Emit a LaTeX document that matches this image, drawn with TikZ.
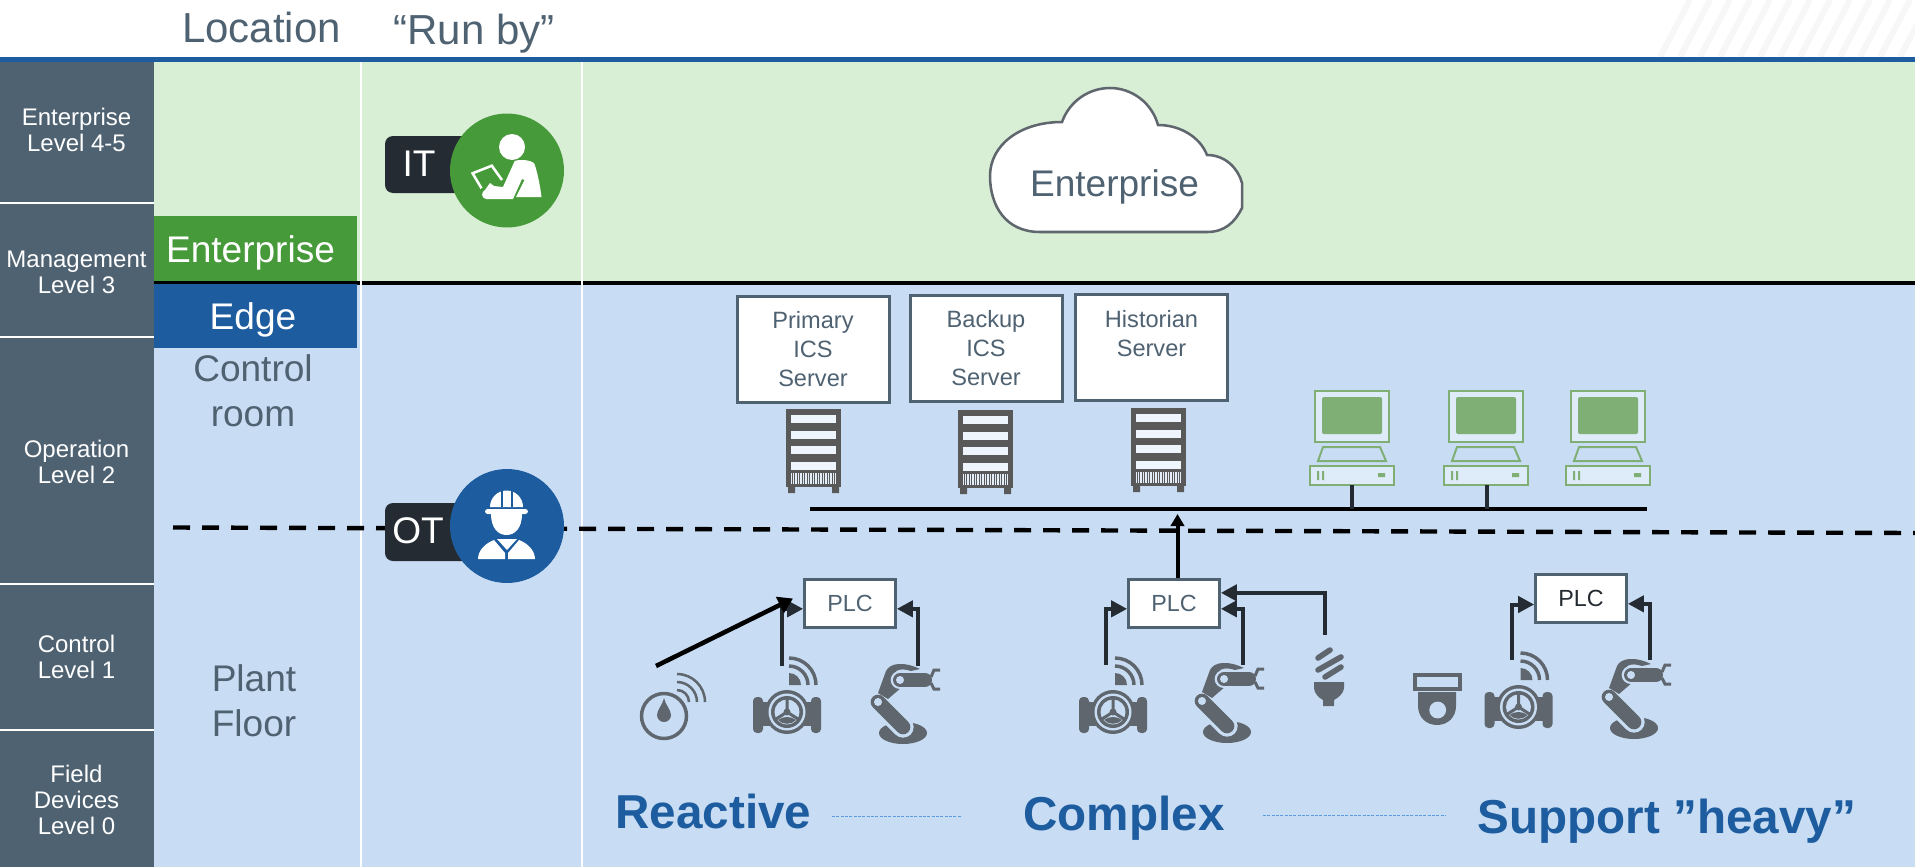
\documentclass[tikz,border=0pt]{standalone}
\usepackage{fontspec}
\setmainfont{Liberation Sans}
\usetikzlibrary{arrows.meta}

\definecolor{itgreen}{RGB}{71,154,58}
\definecolor{otblue}{RGB}{29,92,158}
\definecolor{lightgreen}{RGB}{216,239,214}
\definecolor{lightblue}{RGB}{200,221,244}
\definecolor{slategray}{RGB}{79,98,114}
\definecolor{tagdark}{RGB}{36,43,50}
\definecolor{icongray}{RGB}{95,102,109}
\definecolor{rackgray}{RGB}{89,89,89}
\definecolor{pcgreen}{RGB}{127,175,117}
\definecolor{dashblue}{RGB}{91,155,224}

\tikzset{every picture/.style={line width=0.75pt}}
\tikzset{
	every pic/.style={yscale=-1},
	leveltext/.style={text=white,align=center,inner sep=0pt,font=\fontsize{18}{19.5}\selectfont},
	headtext/.style={text=slategray,anchor=base,inner sep=0pt,font=\fontsize{31.5}{36}\selectfont},
	zonetext/.style={text=white,anchor=base,inner sep=0pt,font=\fontsize{27.8}{32}\selectfont},
	roomtext/.style={text=slategray,align=center,inner sep=0pt,font=\fontsize{27.8}{33.75}\selectfont},
	tagtext/.style={text=white,inner sep=0pt,font=\fontsize{27.8}{32}\selectfont},
	serverbox/.style={draw=slategray,fill=white,line width=2.25pt,minimum width=114pt,minimum height=79.5pt,inner sep=0pt,
		text=slategray,align=center,font=\fontsize{17.7}{21.75}\selectfont},
	plcbox/.style={draw=slategray,fill=white,line width=2.25pt,minimum width=68pt,minimum height=36pt,inner sep=0pt,
		text=slategray,font=\fontsize{17.5}{21}\selectfont},
	plclink/.style={draw=tagdark,line width=3pt,-{Triangle[length=12pt,width=12pt,fill=tagdark]}},
	trendtext/.style={text=otblue,anchor=base,inner sep=0pt,font=\fontsize{35.7}{40}\selectfont\bfseries},
	trendline/.style={draw=dashblue,line width=0.75pt,dash pattern={on 2.25pt off 1pt}},
	fieldvalve/.pic={
		\fill[icongray,rounded corners=3pt] (-34,-15) rectangle (-24,21);
		\fill[icongray,rounded corners=3pt] (24,-15) rectangle (34,21);
		\fill[icongray] (-25,-10) rectangle (25,14);
		\fill[icongray] (0,0) circle (22);
		\fill[lightblue] (0,0) circle (18.5);
		\fill[icongray] (0,0) circle (16);
		\fill[lightblue] (0,0) circle (12.5);
		\draw[icongray,line width=2.25pt] (0,0) -- (0,-13) (0,0) -- (11,7) (0,0) -- (-11,7);
		\fill[icongray] (0,0) circle (3.5);
		\fill[icongray] (-9,8) .. controls (-4,4) and (4,4) .. (9,8) .. controls (4,13) and (-4,13) .. (-9,8) -- cycle;
		\fill[icongray] (2,-27) -- (2,-39) arc [start angle=-90,end angle=0,radius=12] -- cycle;
		\draw[icongray,line width=2.6pt] (2,-46) arc [start angle=-90,end angle=0,radius=19];
		\draw[icongray,line width=2.6pt] (2,-54) arc [start angle=-90,end angle=0,radius=27];
	},
	robotarm/.pic={
		\fill[icongray] (-2,30) ellipse [x radius=24,y radius=11];
		\draw[lightblue,line width=16pt,line cap=round] (-27,-1) -- (-2,24);
		\draw[icongray,line width=11pt,line cap=round] (-27,-1) -- (-2,24);
		\fill[lightblue] (-27,-1) circle (4);
		\fill[icongray] (-27,-10) -- (-19,-32) .. controls (-15,-40) and (-2,-42) .. (15,-34) -- (6,-32)
			.. controls (-6,-36) and (-12,-32) .. (-14,-24) -- (-3,-16) -- (-17,-4) -- cycle;
		\draw[lightblue,line width=14pt,line cap=round] (-5,-23) -- (20,-23);
		\draw[icongray,line width=10.5pt,line cap=round] (-5,-23) -- (20,-23);
		\fill[lightblue] (-5,-23) circle (4);
		\draw[icongray,line width=2.25pt] (26,-26) -- (29,-33) -- (35,-33) (26,-20) -- (29,-14) -- (35,-14);
	},
	rackunit/.pic={
		\fill[rackgray] (0,0) rectangle (55,78);
		\fill[rackgray] (2,78) rectangle (9,84) (46,78) rectangle (53,84);
		\foreach \slot in {6,22,37,53} {
			\fill[white!70!lightblue] (5,\slot) rectangle (50,\slot+8);
		}
		\fill[white!50!lightblue] (5,64) rectangle (50,75);
		\foreach \bar in {6,8.5,...,49} {
			\draw[rackgray,line width=0.6pt] (\bar,64) -- (\bar,75);
		}
	},
	operatorpc/.pic={
		\fill[white!40!lightblue] (5,0) rectangle (79,51);
		\draw[pcgreen,line width=1.5pt] (5,0) rectangle (79,51);
		\fill[pcgreen,rounded corners=1.5pt] (12,6) rectangle (72,43);
		\draw[pcgreen,line width=1.5pt] (13,56) -- (70,56) -- (76,70) -- (8,70) -- cycle;
		\fill[white!40!lightblue] (0,75) rectangle (84,94);
		\draw[pcgreen,line width=1.5pt] (0,75) rectangle (84,94);
		\fill[pcgreen] (7,80) rectangle (9,89) (12,80) rectangle (14,89) (68,82) rectangle (75,86);
	},
}

\begin{document}
\begin{tikzpicture}[x=0.75pt,y=0.75pt,yscale=-1,xscale=1]
	\useasboundingbox (0,0) rectangle (1915,867);

	%Shape: Stripes top right
	\foreach \x in {1660,1680,...,1900} {
		\draw [color=black!3,line width=4.5pt] (\x,57) -- (\x+30,0) ;
	}

	%Shape: Rectangle bands
	\fill [lightgreen] (154,62) rectangle (1915,282) ;
	\fill [lightblue] (154,282) rectangle (1915,867) ;
	\fill [slategray] (0,62) rectangle (154,867) ;
	%Straight Lines level separators
	\foreach \y in {203,337,584,730} {
		\draw [white,line width=1.5pt] (0,\y) -- (154,\y) ;
	}
	%Straight Lines top rule and boundary
	\draw [otblue,line width=3.75pt] (0,59.5) -- (1915,59.5) ;
	\draw [black,line width=3pt] (154,282.5) -- (1915,282.5) ;
	%Straight Lines column rules
	\draw [white,line width=1.5pt] (361,62) -- (361,867) ;
	\draw [white,line width=1.5pt] (582,62) -- (582,867) ;
	%Straight Lines level 2 boundary
	\draw [black,line width=3.3pt,dash pattern={on 12.75pt off 9pt}] (173,527.5) -- (1915,533) ;

	% Text Node
	\node [headtext] (location) at (261.5,43) {Location};
	\node [headtext] (runby) at (474,45) {“Run by”};
	\node [leveltext] (lvlenterprise) at (76.5,130) {Enterprise\\Level 4-5};
	\node [leveltext] (lvlmanagement) at (76.5,272) {Management\\Level 3};
	\node [leveltext] (lvloperation) at (76.5,462) {Operation\\Level 2};
	\node [leveltext] (lvlcontrol) at (76.5,657) {Control\\Level 1};
	\node [leveltext] (lvlfield) at (76.5,800) {Field\\Devices\\Level 0};

	%Shape: Rectangle zones
	\fill [itgreen] (154,216) rectangle (357,281) ;
	\fill [otblue] (154,284) rectangle (357,348) ;
	% Text Node
	\node [zonetext] (zoneenterprise) at (250.5,262) {Enterprise};
	\node [zonetext] (zoneedge) at (253,329) {Edge};
	\node [roomtext] (controlroom) at (253,391) {Control\\room};
	\node [roomtext] (plantfloor) at (254,701) {Plant\\Floor};

	%Shape: IT badge
	\fill [tagdark,rounded corners=6pt] (385,136) rectangle (470,193) ;
	\fill [itgreen] (507,170.5) circle (57) ;
	\node [tagtext] (ittag) at (419,163.5) {IT};
	\fill [white] (512,147) circle (13) ;
	\fill [white] (514.7,161) .. controls (520,159) and (530,160) .. (534,163) .. controls (537,170) and (540,185) .. (541.5,197) -- (516,197) -- (524.5,180) -- (522,179) -- (513,199) -- (486,199) .. controls (481,198) and (481,192) .. (485,190) -- (490,183) -- (494,186) -- (503,187) -- cycle ;
	\draw [white,line width=1.9pt] (502,180) -- (491.8,165.7) -- (472.6,173.3) -- (481.5,188.3) ;

	%Shape: OT badge
	\fill [tagdark,rounded corners=6pt] (385,503) rectangle (470,561) ;
	\fill [otblue] (507,526) circle (57) ;
	\node [tagtext] (ottag) at (418,530.5) {OT};
	\fill [white] (490,507) arc [start angle=180,end angle=360,radius=16.5] -- cycle ;
	\fill [white,rounded corners=2pt] (485,509) rectangle (528,514) ;
	\fill [white] (491,514) -- (522,514) .. controls (522,528) and (515,535) .. (506.5,535) .. controls (498,535) and (491,528) .. (491,514) -- cycle ;
	\draw [otblue,line width=1.2pt] (502,488) -- (502,507) (512,488) -- (512,507) ;
	\fill [white] (497,539) -- (517,539) -- (507,550) -- cycle ;
	\fill [white] (478,559) .. controls (478,550) and (486,543) .. (494,540) -- (505,553) -- (505,559) -- cycle ;
	\fill [white] (535,559) .. controls (535,550) and (527,543) .. (519,540) -- (508,553) -- (508,559) -- cycle ;

	%Shape: Cloud
	\draw [draw=icongray,fill=white,line width=1.9pt] (1040,232) .. controls (1005,232) and (990,205) .. (990,176) .. controls (990,145) and (1020,122) .. (1062,122) .. controls (1070,100) and (1090,88) .. (1110,88) .. controls (1132,88) and (1152,103) .. (1158,125) .. controls (1180,125) and (1200,137) .. (1207,155) .. controls (1225,155) and (1238,168) .. (1242,183) -- (1242,208) .. controls (1235,222) and (1225,232) .. (1207,232) -- cycle ;
	% Text Node
	\node [zonetext,text=slategray] (cloudtext) at (1114.5,196) {Enterprise};

	% Text Node
	\node [serverbox] (primary) at (813,349) {Primary\\ICS\\Server};
	\node [serverbox] (backup) at (986,348.5) {Backup\\ICS\\Server};
	\node [serverbox] (historian) at (1151.5,347.5) {Historian\\Server\\~};

	%Shape: Racks
	\path (786,409) pic {rackunit};
	\path (958,410) pic {rackunit};
	\path (1131,408) pic {rackunit};

	%Shape: Operator stations
	\path (1310,391) pic {operatorpc};
	\path (1444,391) pic {operatorpc};
	\path (1566,391) pic {operatorpc};

	%Straight Lines bus
	\coordinate (busleft) at (810,509);
	\coordinate (busright) at (1647,509);
	\coordinate (pcportone) at (1352,485);
	\coordinate (pcporttwo) at (1487,485);
	\draw [black,line width=3pt] (busleft) -- (busright) ;
	\draw [tagdark,line width=3pt] (pcportone) -- (pcportone |- busleft) ;
	\draw [tagdark,line width=3pt] (pcporttwo) -- (pcporttwo |- busleft) ;

	% Text Node
	\node [plcbox] (plcone) at (850,603.5) {PLC};
	\node [plcbox] (plctwo) at (1174,603.5) {PLC};
	\node [plcbox,text=tagdark] (plcthree) at (1581,598.5) {PLC};

	%Shape: Field devices
	\path (787,712) pic {fieldvalve};
	\path (905,703) pic {robotarm};
	\path (1113,712) pic {fieldvalve};
	\path (1229,702) pic {robotarm};
	\path (1518.5,707) pic {fieldvalve};
	\path (1636,698) pic {robotarm};

	%Shape: Gauge
	\draw [icongray,line width=2.6pt] (664,716) circle (22.5) ;
	\fill [icongray] (664,698) .. controls (665,704) and (671,710) .. (671,715) arc [start angle=0,end angle=180,radius=7] .. controls (657,710) and (663,704) .. (664,698) -- cycle ;
	\draw [icongray,line width=1.9pt] (677,690) arc [start angle=-90,end angle=0,radius=12] (677,682) arc [start angle=-90,end angle=0,radius=20] (677,674) arc [start angle=-90,end angle=0,radius=28] ;

	%Shape: Bulb
	\draw [icongray,line width=4.2pt,line cap=round] (1318,658) -- (1330,650) (1318,670) -- (1341,657) (1325,677) -- (1341,667) ;
	\fill [icongray] (1314,682) -- (1344,682) -- (1344,688) .. controls (1344,693) and (1338,698) .. (1334,700) -- (1334,706) -- (1323,706) -- (1323,700) .. controls (1319,698) and (1314,693) .. (1314,688) -- cycle ;

	%Shape: Camera
	\draw [icongray,line width=3pt] (1414.5,675) rectangle (1460,689) ;
	\fill [icongray] (1418,692) -- (1456,692) -- (1456,706) .. controls (1456,717) and (1448,725) .. (1437,725) .. controls (1426,725) and (1418,717) .. (1418,706) -- cycle ;
	\fill [lightblue] (1437.7,710) circle (8.4) ;

	%Straight Lines signal sources
	\coordinate (gaugeout) at (656,666);
	\coordinate (gaugein) at (793,598.5);
	\coordinate (valveoneout) at (782,666);
	\coordinate (armoneout) at (918,666);
	\coordinate (valvetwoout) at (1106,665);
	\coordinate (armtwoout) at (1243,665);
	\coordinate (bulbout) at (1325,635);
	\coordinate (valvethreeout) at (1512,660);
	\coordinate (armthreeout) at (1649.5,660);
	\coordinate (uplinktip) at (1177.5,514);

	%Straight Lines
	\draw [plclink] (valveoneout) |- ([yshift=4pt]plcone.west) ;
	\draw [plclink] (armoneout) |- ([yshift=4pt]plcone.east) ;
	\draw [black,line width=3.4pt,-{Triangle[length=11pt,width=13pt,fill=black]}] (gaugeout) -- (gaugein) ;
	\draw [plclink] (valvetwoout) |- ([yshift=4pt]plctwo.west) ;
	\draw [plclink] (armtwoout) |- ([yshift=4pt]plctwo.east) ;
	\draw [plclink] (bulbout) |- ([yshift=-8pt]plctwo.east) ;
	\draw [plclink] (valvethreeout) |- ([yshift=4.5pt]plcthree.west) ;
	\draw [plclink] (armthreeout) |- ([yshift=4pt]plcthree.east) ;
	\draw [black,line width=3pt,-{Triangle[length=9pt,width=10pt,fill=black]}] (uplinktip |- plctwo.north) -- (uplinktip) ;

	% Text Node
	\node [trendtext] (reactive) at (713.5,828) {Reactive};
	\node [trendtext] (complex) at (1124,830) {Complex};
	\node [trendtext] (supportheavy) at (1667,833) {Support ”heavy”};

	%Straight Lines
	\coordinate (trendonea) at (832,816.5);
	\coordinate (trendoneb) at (960.5,816.5);
	\coordinate (trendtwoa) at (1263,815);
	\coordinate (trendtwob) at (1446,815);
	\draw [trendline] (trendonea) -- (trendoneb) ;
	\draw [trendline] (trendtwoa) -- (trendtwob) ;

\end{tikzpicture}
\end{document}
